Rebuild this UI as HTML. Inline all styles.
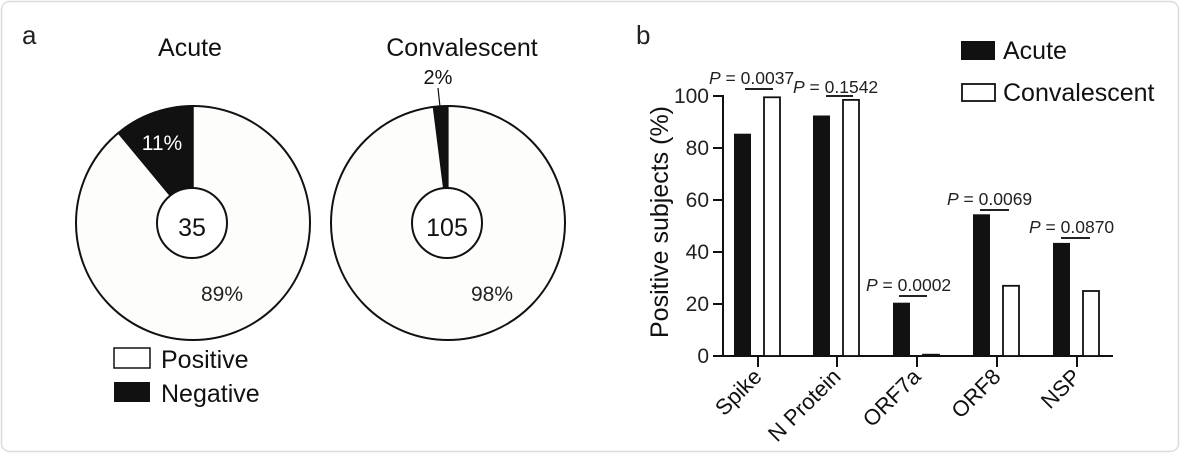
<!DOCTYPE html>
<html><head><meta charset="utf-8"><style>
html,body{margin:0;padding:0;background:#fff;}
svg{display:block;font-family:"Liberation Sans",Arial,sans-serif;}
</style></head><body>
<svg width="1180" height="453" viewBox="0 0 1180 453" xmlns="http://www.w3.org/2000/svg">
<rect x="1.5" y="1.5" width="1177" height="450" rx="8" fill="#fff" stroke="#dcdcdc" stroke-width="1.5"/>
<text x="22" y="44" font-size="26" fill="#222">a</text>
<text x="636" y="44" font-size="26" fill="#222">b</text>

<!-- Pie 1 -->
<text x="190" y="56" font-size="25" text-anchor="middle" fill="#111">Acute</text>
<circle cx="193" cy="223" r="117" fill="#fdfdfb" stroke="#111" stroke-width="2"/>
<path d="M193,223 L193,106 A117,117 0 0 0 118.3,133 Z" fill="#111" stroke="#111" stroke-width="1.5"/>
<circle cx="192" cy="223" r="35" fill="#fff" stroke="#111" stroke-width="2"/>
<text x="192" y="236" font-size="25" text-anchor="middle" fill="#111">35</text>
<text x="162" y="150" font-size="21" text-anchor="middle" fill="#fff">11%</text>
<text x="222" y="301" font-size="21" text-anchor="middle" fill="#222">89%</text>
<rect x="114" y="348" width="36" height="20" fill="#fff" stroke="#111" stroke-width="1.5"/>
<text x="161" y="368" font-size="25" fill="#111">Positive</text>
<rect x="114" y="382" width="36" height="20" fill="#111"/>
<text x="161" y="402" font-size="25" fill="#111">Negative</text>

<!-- Pie 2 -->
<text x="462" y="56" font-size="25" text-anchor="middle" fill="#111">Convalescent</text>
<text x="438" y="84" font-size="20" text-anchor="middle" fill="#111">2%</text>
<line x1="438" y1="88" x2="440" y2="107" stroke="#111" stroke-width="1.2"/>
<circle cx="448" cy="223" r="117" fill="#fdfdfb" stroke="#111" stroke-width="2"/>
<path d="M448,223 L448,106 A117,117 0 0 0 433.3,106.9 Z" fill="#111" stroke="#111" stroke-width="1.2"/>
<circle cx="447" cy="223" r="35" fill="#fff" stroke="#111" stroke-width="2"/>
<text x="447" y="236" font-size="25" text-anchor="middle" fill="#111">105</text>
<text x="492" y="301" font-size="21" text-anchor="middle" fill="#222">98%</text>

<!-- Bar chart -->
<g stroke="#111" stroke-width="2" fill="none">
<line x1="723" y1="95" x2="723" y2="357"/>
<line x1="713" y1="356" x2="1113" y2="356"/>
<line x1="713" y1="96" x2="723" y2="96"/>
<line x1="713" y1="148" x2="723" y2="148"/>
<line x1="713" y1="200" x2="723" y2="200"/>
<line x1="713" y1="252" x2="723" y2="252"/>
<line x1="713" y1="304" x2="723" y2="304"/>
<line x1="758" y1="356" x2="758" y2="367"/>
<line x1="837" y1="356" x2="837" y2="367"/>
<line x1="917" y1="356" x2="917" y2="367"/>
<line x1="997" y1="356" x2="997" y2="367"/>
<line x1="1077" y1="356" x2="1077" y2="367"/>
</g>
<g font-size="21" text-anchor="end" fill="#222">
<text x="709" y="103">100</text>
<text x="709" y="155">80</text>
<text x="709" y="207">60</text>
<text x="709" y="259">40</text>
<text x="709" y="311">20</text>
<text x="709" y="363">0</text>
</g>
<text transform="translate(668,222) rotate(-90)" font-size="25" text-anchor="middle" fill="#111">Positive subjects (%)</text>

<g fill="#111">
<rect x="734" y="133.7" width="17" height="222.3"/>
<rect x="813" y="115.5" width="17" height="240.5"/>
<rect x="893" y="302.7" width="17" height="53.3"/>
<rect x="973" y="214.3" width="17" height="141.7"/>
<rect x="1053" y="242.9" width="17" height="113.1"/>
</g>
<g fill="#fff" stroke="#111" stroke-width="1.8">
<rect x="764" y="97.3" width="16" height="258.7"/>
<rect x="843" y="99.9" width="16" height="256.1"/>
<rect x="923" y="354.7" width="16" height="1.3"/>
<rect x="1003" y="285.8" width="16" height="70.2"/>
<rect x="1083" y="291" width="16" height="65"/>
</g>

<g font-size="22" text-anchor="end" fill="#111">
<text transform="translate(763,378) rotate(-45)">Spike</text>
<text transform="translate(842,378) rotate(-45)">N Protein</text>
<text transform="translate(922,378) rotate(-45)">ORF7a</text>
<text transform="translate(1002,378) rotate(-45)">ORF8</text>
<text transform="translate(1082,378) rotate(-45)">NSP</text>
</g>

<g font-size="17.5" fill="#222">
<text x="709" y="84"><tspan font-style="italic">P</tspan> = 0.0037</text>
<text x="793" y="93"><tspan font-style="italic">P</tspan> = 0.1542</text>
<text x="866" y="291"><tspan font-style="italic">P</tspan> = 0.0002</text>
<text x="947" y="205"><tspan font-style="italic">P</tspan> = 0.0069</text>
<text x="1029" y="233"><tspan font-style="italic">P</tspan> = 0.0870</text>
</g>
<g stroke="#222" stroke-width="2">
<line x1="745" y1="89" x2="773" y2="89"/>
<line x1="826" y1="96" x2="853" y2="96"/>
<line x1="899" y1="296" x2="927" y2="296"/>
<line x1="980" y1="210" x2="1009" y2="210"/>
<line x1="1061" y1="238" x2="1090" y2="238"/>
</g>

<rect x="961" y="41" width="34" height="19" fill="#111"/>
<text x="1003" y="59" font-size="25" fill="#111">Acute</text>
<rect x="962" y="84" width="33" height="17" fill="#fff" stroke="#111" stroke-width="1.8"/>
<text x="1003" y="101" font-size="25" fill="#111">Convalescent</text>
</svg>
</body></html>
